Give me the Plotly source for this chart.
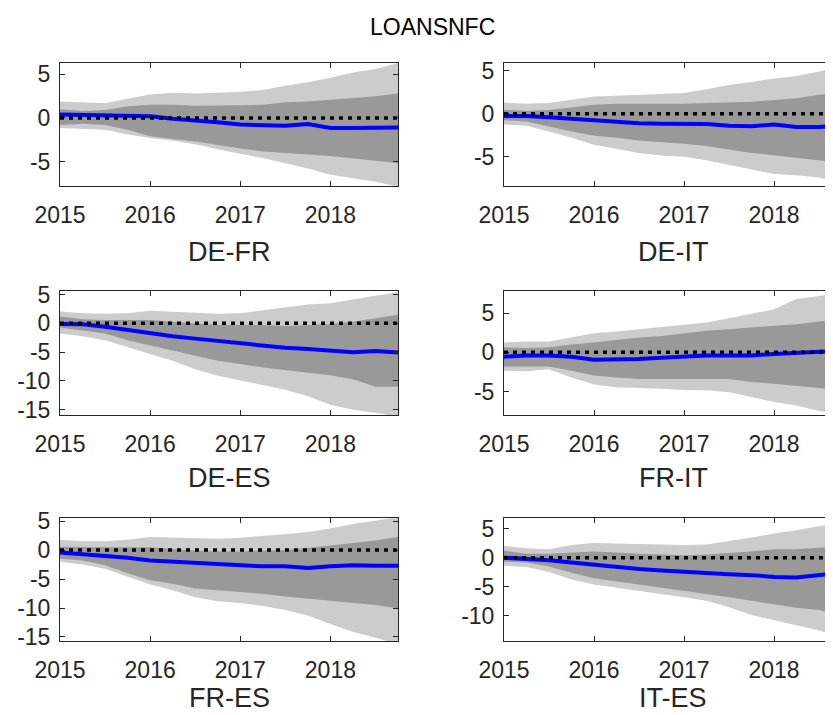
import plotly.graph_objects as go

# ---------------- data ----------------
X = [2015.0, 2015.25, 2015.5, 2015.75, 2016.0, 2016.25, 2016.5, 2016.75,
     2017.0, 2017.25, 2017.5, 2017.75, 2018.0, 2018.25, 2018.5, 2018.75]
YEAR_TICKS = [2015, 2016, 2017, 2018]
TITLE = "LOANSNFC"

# DE-FR
DEFR_lo95 = [-1.15, -1.25, -1.35, -1.9, -2.3, -2.6, -3.0, -3.6, -4.1, -4.6, -5.2, -5.8, -6.5, -6.9, -7.3, -7.9]
DEFR_lo68 = [-0.8, -0.65, -0.8, -1.35, -2.1, -2.4, -2.7, -3.1, -3.5, -3.85, -4.0, -4.2, -4.35, -4.6, -4.9, -5.2]
DEFR_med = [0.4, 0.35, 0.2, 0.2, 0.2, -0.1, -0.25, -0.5, -0.75, -0.85, -0.9, -0.7, -1.15, -1.15, -1.1, -1.1]
DEFR_hi68 = [1.0, 0.8, 0.9, 1.35, 1.5, 1.5, 1.4, 1.4, 1.45, 1.5, 1.8, 1.9, 2.1, 2.3, 2.5, 2.8]
DEFR_hi95 = [1.9, 1.8, 1.7, 2.2, 2.7, 2.9, 2.8, 2.9, 3.0, 3.2, 3.7, 4.1, 4.6, 5.2, 5.6, 6.3]

# DE-IT
DEIT_lo95 = [-1.25, -1.4, -2.05, -2.8, -3.6, -4.1, -4.55, -4.85, -5.0, -5.4, -5.9, -6.45, -7.0, -7.15, -7.4, -8.2]
DEIT_lo68 = [-0.75, -0.9, -1.45, -2.05, -2.55, -2.8, -3.1, -3.3, -3.5, -3.75, -4.15, -4.55, -4.85, -5.1, -5.4, -5.7]
DEIT_med = [-0.25, -0.25, -0.4, -0.6, -0.75, -1.0, -1.1, -1.15, -1.15, -1.2, -1.4, -1.45, -1.25, -1.55, -1.55, -1.35]
DEIT_hi68 = [0.45, 0.35, 0.45, 0.75, 1.05, 1.15, 1.15, 1.15, 1.15, 1.25, 1.3, 1.4, 1.6, 1.8, 2.2, 2.5]
DEIT_hi95 = [1.3, 1.15, 1.25, 1.6, 2.0, 2.1, 2.2, 2.3, 2.4, 2.85, 3.35, 3.7, 4.1, 4.4, 4.9, 5.6]

# DE-ES
DEES_lo95 = [-1.75, -2.25, -2.95, -4.1, -5.3, -6.5, -7.95, -9.1, -9.9, -10.7, -11.5, -12.65, -14.1, -15.0, -15.5, -16.2]
DEES_lo68 = [-0.7, -1.2, -1.75, -2.95, -3.8, -4.7, -5.6, -6.5, -7.05, -7.65, -8.1, -8.55, -9.0, -9.7, -11.0, -11.0]
DEES_med = [-0.1, -0.15, -0.6, -1.2, -1.75, -2.25, -2.65, -3.05, -3.5, -3.9, -4.25, -4.45, -4.7, -5.0, -4.8, -5.05]
DEES_hi68 = [1.2, 0.7, 0.6, 0.6, 0.6, 0.3, 0.0, -0.3, -0.3, -0.3, -0.45, -0.3, -0.1, 0.3, 0.9, 1.5]
DEES_hi95 = [2.05, 1.75, 1.65, 1.75, 2.2, 2.05, 1.9, 1.65, 1.75, 2.25, 2.8, 3.25, 3.5, 4.2, 4.8, 5.4]

# FR-IT
FRIT_lo95 = [-2.35, -2.4, -2.15, -3.2, -4.1, -4.45, -4.55, -4.65, -4.8, -4.85, -5.1, -5.7, -6.35, -6.8, -7.5, -7.85]
FRIT_lo68 = [-1.8, -1.8, -1.8, -2.35, -2.95, -3.2, -3.4, -3.4, -3.4, -3.4, -3.4, -3.8, -4.0, -4.25, -4.55, -4.95]
FRIT_med = [-0.55, -0.4, -0.4, -0.55, -0.95, -0.95, -0.85, -0.7, -0.55, -0.4, -0.4, -0.4, -0.2, -0.1, 0.0, 0.2]
FRIT_hi68 = [0.65, 0.55, 0.65, 1.0, 1.25, 1.55, 1.9, 2.1, 2.4, 2.75, 2.95, 3.2, 3.4, 3.6, 3.95, 4.2]
FRIT_hi95 = [1.25, 1.4, 1.4, 1.9, 2.45, 2.65, 2.95, 3.25, 3.5, 3.8, 4.35, 4.95, 5.5, 6.8, 7.2, 7.6]

# FR-ES
FRES_lo95 = [-2.0, -2.5, -3.2, -4.6, -5.95, -6.95, -8.15, -8.85, -9.15, -9.65, -10.35, -11.3, -12.75, -14.1, -15.1, -16.2]
FRES_lo68 = [-1.45, -1.8, -2.6, -4.0, -5.2, -5.8, -6.65, -6.95, -7.25, -7.55, -8.0, -8.45, -8.75, -9.15, -9.5, -10.1]
FRES_med = [-0.4, -0.7, -0.85, -1.3, -1.8, -2.0, -2.2, -2.5, -2.7, -2.8, -2.8, -3.1, -2.8, -2.6, -2.7, -2.7]
FRES_hi68 = [0.6, 0.5, 0.5, 0.5, 0.5, 0.2, -0.1, -0.25, -0.25, -0.1, 0.0, 0.35, 0.75, 1.2, 1.65, 2.25]
FRES_hi95 = [1.8, 1.55, 1.55, 1.8, 2.25, 2.15, 1.95, 1.95, 2.15, 2.4, 2.75, 3.15, 3.75, 4.5, 5.1, 5.7]

# IT-ES
ITES_lo95 = [-1.4, -1.6, -2.45, -3.75, -4.6, -5.15, -5.7, -6.25, -6.8, -7.4, -8.5, -9.85, -10.75, -11.6, -12.5, -13.6]
ITES_lo68 = [-0.7, -0.85, -1.5, -2.6, -3.55, -4.1, -4.6, -5.25, -5.7, -6.25, -6.8, -7.4, -8.05, -8.6, -9.0, -9.85]
ITES_med = [0.0, -0.15, -0.45, -0.85, -1.25, -1.6, -1.95, -2.2, -2.45, -2.7, -2.85, -3.0, -3.3, -3.4, -3.0, -2.6]
ITES_hi68 = [1.2, 0.65, 0.65, 0.9, 1.05, 0.9, 0.65, 0.55, 0.4, 0.55, 0.75, 1.05, 1.45, 1.45, 1.7, 1.9]
ITES_hi95 = [2.0, 1.6, 1.45, 2.15, 2.5, 2.4, 2.25, 2.15, 2.15, 2.25, 2.8, 3.45, 4.15, 4.7, 5.4, 5.9]

PANELS = [
    ("DE-FR", DEFR_lo95, DEFR_lo68, DEFR_med, DEFR_hi68, DEFR_hi95, [-7.8, 6.3], [-5, 0, 5]),
    ("DE-IT", DEIT_lo95, DEIT_lo68, DEIT_med, DEIT_hi68, DEIT_hi95, [-8.4, 5.9], [-5, 0, 5]),
    ("DE-ES", DEES_lo95, DEES_lo68, DEES_med, DEES_hi68, DEES_hi95, [-15.9, 5.7], [-15, -10, -5, 0, 5]),
    ("FR-IT", FRIT_lo95, FRIT_lo68, FRIT_med, FRIT_hi68, FRIT_hi95, [-8.0, 7.9], [-5, 0, 5]),
    ("FR-ES", FRES_lo95, FRES_lo68, FRES_med, FRES_hi68, FRES_hi95, [-15.7, 5.55], [-15, -10, -5, 0, 5]),
    ("IT-ES", ITES_lo95, ITES_lo68, ITES_med, ITES_hi68, ITES_hi95, [-14.3, 6.8], [-10, -5, 0, 5]),
]

# ---------------- layout geometry (window pixels) ----------------
OFF = 8                      # page body margin in the browser
W, H = 833 - OFF, 715 - OFF  # figure size so that it fills the window
COL_X = [(60, 398), (504, 833)]
ROW_Y = [(63, 186), (290.5, 415), (518, 641)]
XRANGE = [[2015.0, 2018.75], [2015.0, 2015.0 + 329 / 90]]
SUB_Y = [252, 478, 715]
SUB_ANCHOR = ["middle", "middle", "bottom"]


def px(x):
    return (x - OFF) / W


def py(y):
    return 1 - (y - OFF) / H


LIGHT = "rgb(204,204,204)"
DARK = "rgb(153,153,153)"
AXC = "#262626"
FONT = "Liberation Sans, Arial, Helvetica, sans-serif"

fig = go.Figure()
layout = dict(
    width=W, height=H, margin=dict(l=0, r=0, t=0, b=0, pad=0, autoexpand=False),
    paper_bgcolor="white", plot_bgcolor="white", showlegend=False,
    font=dict(family=FONT, color=AXC),
)
annotations = [dict(text=TITLE, x=px(432), y=py(27), xref="paper", yref="paper",
                    showarrow=False, font=dict(size=23, color="black", family=FONT),
                    xanchor="center", yanchor="middle")]

for i, (name, lo95, lo68, med, hi68, hi95, yr, yt) in enumerate(PANELS):
    r, c = divmod(i, 2)
    n = i + 1
    xa = "x" if n == 1 else f"x{n}"
    ya = "y" if n == 1 else f"y{n}"
    x0, x1 = COL_X[c]
    y0, y1 = ROW_Y[r]
    fig.add_trace(go.Scatter(x=X + X[::-1], y=hi95 + lo95[::-1], fill="toself",
                             fillcolor=LIGHT, line=dict(width=0), mode="lines",
                             xaxis=xa, yaxis=ya, hoverinfo="skip"))
    fig.add_trace(go.Scatter(x=X + X[::-1], y=hi68 + lo68[::-1], fill="toself",
                             fillcolor=DARK, line=dict(width=0), mode="lines",
                             xaxis=xa, yaxis=ya, hoverinfo="skip"))
    fig.add_trace(go.Scatter(x=X, y=med, mode="lines", line=dict(color="#0000ff", width=4),
                             xaxis=xa, yaxis=ya))
    fig.add_shape(type="line", xref=f"{xa} domain", yref=ya, x0=0, x1=1, y0=0, y1=0,
                  line=dict(color="black", width=3.5, dash="4px,5px"))
    common = dict(showline=True, linecolor=AXC, linewidth=1, ticks="inside", ticklen=5,
                  tickcolor=AXC, tickwidth=1, showgrid=False, zeroline=False,
                  automargin=False,
                  tickfont=dict(size=23, color=AXC, family=FONT))
    layout["xaxis" if n == 1 else f"xaxis{n}"] = dict(
        common, domain=[px(x0), min(1.0, px(x1))], range=XRANGE[c], anchor=ya,
        tickvals=YEAR_TICKS, ticktext=[str(v) for v in YEAR_TICKS],
        mirror="ticks", ticklabelstandoff=8)
    layout["yaxis" if n == 1 else f"yaxis{n}"] = dict(
        common, domain=[py(y1), py(y0)], range=yr, anchor=xa,
        tickvals=yt, ticktext=[str(v) for v in yt],
        mirror="ticks" if c == 0 else False, ticklabelstandoff=4)
    annotations.append(dict(text=name, x=px((x0 + (x0 + 338)) / 2), y=py(SUB_Y[r]),
                            xref="paper", yref="paper", showarrow=False,
                            font=dict(size=27, color=AXC, family=FONT),
                            xanchor="center", yanchor=SUB_ANCHOR[r]))

layout["annotations"] = annotations
fig.update_layout(**layout)
fig.write_html("out.html")
